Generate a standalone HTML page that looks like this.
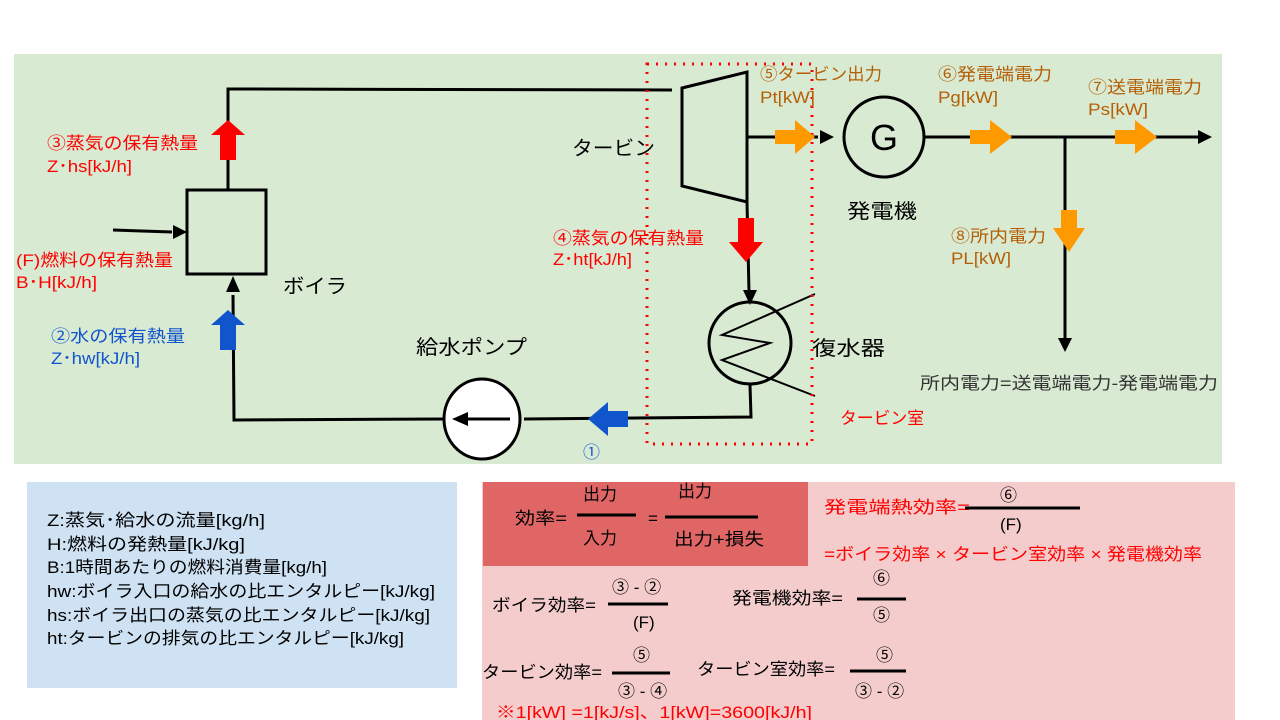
<!DOCTYPE html>
<html><head><meta charset="utf-8"><style>
body{margin:0;width:1280px;height:720px;background:#fff;overflow:hidden}
svg{display:block}
text{font-family:"Liberation Sans","Noto Sans CJK JP",sans-serif}
</style></head><body>
<svg width="1280" height="720" viewBox="0 0 1280 720">
<rect x="14" y="54" width="1208" height="410" fill="#d9ead3"/>
<rect x="27" y="482" width="430" height="206" fill="#cfe2f3"/>
<rect x="482" y="482" width="753" height="238" fill="#f4cccc"/>
<rect x="483" y="482" width="325" height="84" fill="#e06666"/>

<g stroke="#000" stroke-width="3" fill="none">
<rect x="187" y="190" width="79" height="84"/>
<polyline points="228,190 228,89 672,90"/>
<polygon points="682,88 747,72 747,202 682,186"/>
<line x1="747" y1="137" x2="818" y2="137"/>
<circle cx="884" cy="137" r="40" fill="none"/>
<line x1="924" y1="137" x2="1198" y2="137"/>
<line x1="1065" y1="137" x2="1065" y2="340"/>
<line x1="747" y1="202" x2="749" y2="292"/>
<ellipse cx="750" cy="343" rx="41" ry="41"/>
<polyline points="815,294 722,335 770,343 722,360 815,396" stroke-width="2"/>
<polyline points="750,385 751,417 524,419"/>
<ellipse cx="482" cy="419" rx="38" ry="40" fill="#fff"/>
<polyline points="444,419 234,420 233,295"/>
<line x1="113" y1="230" x2="172" y2="232"/>
<line x1="468" y1="419" x2="510" y2="419"/>
</g>
<g fill="#000">
<polygon points="820,130 834,137 820,144"/>
<polygon points="1198,130 1212,137 1198,144"/>
<polygon points="1058,338 1065,352 1072,338"/>
<polygon points="743,290 750,305 757,290"/>
<polygon points="226,292 233,276 240,292"/>
<polygon points="173,225 187,232 173,239"/>
<polygon points="468,412 452,419 468,426"/>
</g>
<rect x="647" y="64" width="165" height="380" fill="none" stroke="#f00" stroke-width="3" stroke-dasharray="2,7"/>

<polygon points="220,160 236,160 236,135 245,135 228,120 211,135 220,135" fill="#f00"/>
<polygon points="220,350 236,350 236,325 245,325 228,310 211,325 220,325" fill="#1155cc"/>
<polygon points="738,218 754,218 754,242 763,242 746,262 729,242 738,242" fill="#f00"/>
<polygon points="628,411 628,427 608,427 608,436 588,419 608,402 608,411" fill="#1155cc"/>
<polygon points="775,130 795,130 795,120 815,137 795,154 795,144 775,144" fill="#ff9900"/>
<polygon points="970,130 990,130 990,120 1012,137 990,154 990,144 970,144" fill="#ff9900"/>
<polygon points="1115,130 1135,130 1135,120 1157,137 1135,154 1135,144 1115,144" fill="#ff9900"/>
<polygon points="1061,210 1077,210 1077,228 1085,228 1069,252 1053,228 1061,228" fill="#ff9900"/>
<text x="884" y="150" font-size="36" text-anchor="middle" fill="#000">G</text>

<g font-size="17" lengthAdjust="spacingAndGlyphs">
<text x="47" y="149" fill="#f00" textLength="151" lengthAdjust="spacingAndGlyphs">③蒸気の保有熱量</text>
<text x="47" y="172" fill="#f00" textLength="85" lengthAdjust="spacingAndGlyphs">Z･hs[kJ/h]</text>
<text x="16" y="266" fill="#f00" textLength="157" lengthAdjust="spacingAndGlyphs">(F)燃料の保有熱量</text>
<text x="16" y="288" fill="#f00" textLength="81" lengthAdjust="spacingAndGlyphs">B･H[kJ/h]</text>
<text x="51" y="342" fill="#1155cc" textLength="134" lengthAdjust="spacingAndGlyphs">②水の保有熱量</text>
<text x="51" y="364" fill="#1155cc" textLength="89" lengthAdjust="spacingAndGlyphs">Z･hw[kJ/h]</text>
<text x="583" y="458" fill="#1155cc">①</text>
<text x="553" y="244" fill="#f00" textLength="151" lengthAdjust="spacingAndGlyphs">④蒸気の保有熱量</text>
<text x="553" y="265" fill="#f00" textLength="79" lengthAdjust="spacingAndGlyphs">Z･ht[kJ/h]</text>
<text x="760" y="80" fill="#b45f06" textLength="122" lengthAdjust="spacingAndGlyphs">⑤タービン出力</text>
<text x="760" y="103" fill="#b45f06" textLength="55" lengthAdjust="spacingAndGlyphs">Pt[kW]</text>
<text x="938" y="80" fill="#b45f06" textLength="114" lengthAdjust="spacingAndGlyphs">⑥発電端電力</text>
<text x="938" y="103" fill="#b45f06" textLength="60" lengthAdjust="spacingAndGlyphs">Pg[kW]</text>
<text x="1088" y="93" fill="#b45f06" textLength="114" lengthAdjust="spacingAndGlyphs">⑦送電端電力</text>
<text x="1088" y="115" fill="#b45f06" textLength="60" lengthAdjust="spacingAndGlyphs">Ps[kW]</text>
<text x="951" y="242" fill="#b45f06" textLength="95" lengthAdjust="spacingAndGlyphs">⑧所内電力</text>
<text x="951" y="264" fill="#b45f06" textLength="60" lengthAdjust="spacingAndGlyphs">PL[kW]</text>
<text x="840" y="424" fill="#f00" textLength="84" lengthAdjust="spacingAndGlyphs">タービン室</text>
<text x="920" y="389" fill="#333" textLength="298" lengthAdjust="spacingAndGlyphs">所内電力=送電端電力-発電端電力</text>
</g>
<g font-size="20" fill="#000">
<text x="572" y="155" textLength="83" lengthAdjust="spacingAndGlyphs">タービン</text>
<text x="283" y="293" textLength="64" lengthAdjust="spacingAndGlyphs">ボイラ</text>
<text x="416" y="354" textLength="111" lengthAdjust="spacingAndGlyphs">給水ポンプ</text>
<text x="847" y="218" textLength="70" lengthAdjust="spacingAndGlyphs">発電機</text>
<text x="812" y="355" textLength="73" lengthAdjust="spacingAndGlyphs">復水器</text>
</g>

<g font-size="17" fill="#000">
<text x="47" y="526" textLength="218" lengthAdjust="spacingAndGlyphs">Z:蒸気･給水の流量[kg/h]</text>
<text x="47" y="550" textLength="198" lengthAdjust="spacingAndGlyphs">H:燃料の発熱量[kJ/kg]</text>
<text x="47" y="573" textLength="280" lengthAdjust="spacingAndGlyphs">B:1時間あたりの燃料消費量[kg/h]</text>
<text x="47" y="597" textLength="388" lengthAdjust="spacingAndGlyphs">hw:ボイラ入口の給水の比エンタルピー[kJ/kg]</text>
<text x="47" y="621" textLength="383" lengthAdjust="spacingAndGlyphs">hs:ボイラ出口の蒸気の比エンタルピー[kJ/kg]</text>
<text x="47" y="644" textLength="357" lengthAdjust="spacingAndGlyphs">ht:タービンの排気の比エンタルピー[kJ/kg]</text>
</g>

<g font-size="17" fill="#000">
<text x="515" y="524" textLength="52" lengthAdjust="spacingAndGlyphs">効率=</text>
<text x="583" y="500">出力</text>
<text x="583" y="544">入力</text>
<text x="648" y="524">=</text>
<text x="678" y="497">出力</text>
<text x="674" y="545" textLength="90" lengthAdjust="spacingAndGlyphs">出力+損失</text>
<text x="492" y="611" textLength="104" lengthAdjust="spacingAndGlyphs">ボイラ効率=</text>
<text x="612" y="593">③ - ②</text>
<text x="633" y="628">(F)</text>
<text x="732" y="604" textLength="111" lengthAdjust="spacingAndGlyphs">発電機効率=</text>
<text x="873" y="584">⑥</text>
<text x="873" y="621">⑤</text>
<text x="482" y="678" textLength="120" lengthAdjust="spacingAndGlyphs">タービン効率=</text>
<text x="633" y="661">⑤</text>
<text x="618" y="697">③ - ④</text>
<text x="697" y="675" textLength="138" lengthAdjust="spacingAndGlyphs">タービン室効率=</text>
<text x="876" y="661">⑤</text>
<text x="855" y="697">③ - ②</text>
</g>
<g font-size="17" fill="#f00">
<text x="824" y="513" textLength="146" lengthAdjust="spacingAndGlyphs">発電端熱効率=</text>
<text x="1000" y="501" fill="#000">⑥</text>
<text x="1000" y="530" fill="#000">(F)</text>
<text x="824" y="560" textLength="378" lengthAdjust="spacingAndGlyphs">=ボイラ効率 × タービン室効率 × 発電機効率</text>
<text x="496" y="718" textLength="316" lengthAdjust="spacingAndGlyphs">※1[kW] =1[kJ/s]、1[kW]=3600[kJ/h]</text>
</g>
<g stroke="#000" stroke-width="3">
<line x1="577" y1="515" x2="636" y2="515"/>
<line x1="665" y1="517" x2="758" y2="517"/>
<line x1="965" y1="508" x2="1080" y2="508"/>
<line x1="608" y1="604" x2="668" y2="604"/>
<line x1="857" y1="599" x2="906" y2="599"/>
<line x1="612" y1="673" x2="670" y2="673"/>
<line x1="850" y1="671" x2="906" y2="671"/>
</g>
</svg>
</body></html>
